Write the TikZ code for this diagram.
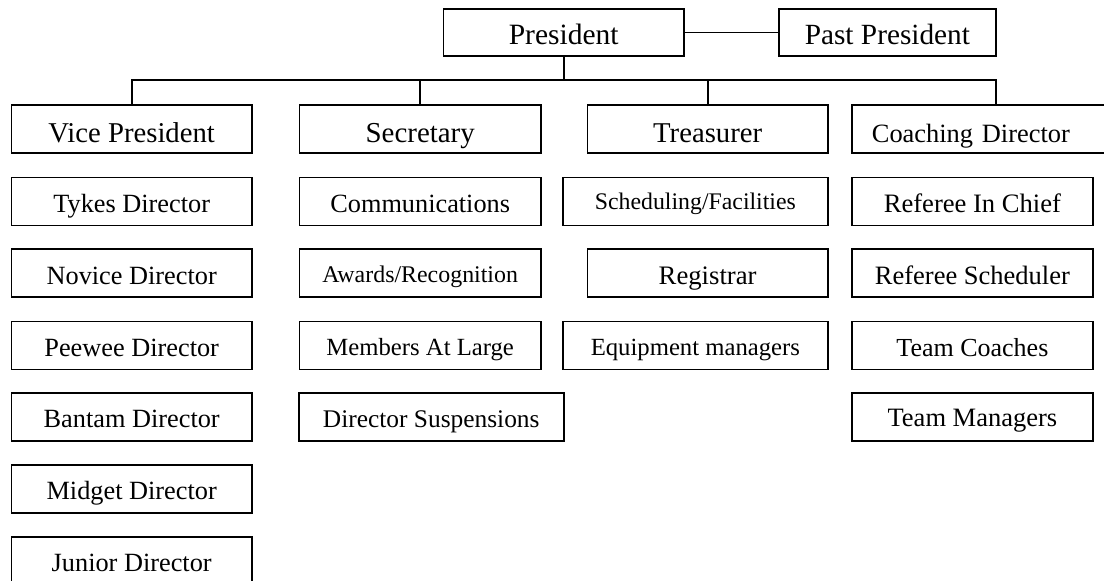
\documentclass[tikz,border=0pt]{standalone}
\usepackage{fontspec}
\setmainfont{Liberation Serif}
\newcommand\myfs[1]{\fontsize{#1}{#1}\selectfont}
\tikzset{
  box/.style={draw, line width=1.8pt, rectangle, inner xsep=0pt, inner ysep=0pt, anchor=north west, minimum height=48pt},
  ttl/.style={box, text height=37.5pt, text depth=10.5pt, font=\myfs{28.7}},
  sub/.style={box, text height=35pt, text depth=13pt, font=\myfs{26.3}},
  conn/.style={line width=1.8pt},
}
\begin{document}
\begin{tikzpicture}[x=1pt, y=-1pt]
\useasboundingbox (0,0) rectangle (1104,581);
\clip (0,0) rectangle (1104,581);
% top
\node[box, minimum width=240.4pt, minimum height=46.7pt, text height=35.7pt, text depth=11pt, font=\myfs{29.5}] (pres) at (442.6,8.3) {President};
\node[box, minimum width=217pt, minimum height=46.7pt, text height=35.7pt, text depth=11pt, font=\myfs{29.3}] (past) at (778,8.3) {Past President};
% titles
\node[ttl, minimum width=240.4pt] (vp) at (10.6,104) {Vice President};
\node[ttl, minimum width=241.4pt, font=\myfs{28.9}] (sec) at (298.6,104) {Secretary};
\node[ttl, minimum width=240.5pt] (tre) at (586.5,104) {Treasurer};
\node[ttl, minimum width=288pt, text width=248pt, inner xsep=20pt, align=left, font=\myfs{26.4}] (coach) at (851,104) {Coaching Director};
% vice president column
\node[sub, minimum width=240.4pt] (tykes) at (10.6,176.5) {Tykes Director};
\node[sub, minimum width=240.4pt] (novice) at (10.6,248.3) {Novice Director};
\node[sub, minimum width=240.4pt] (peewee) at (10.6,320.5) {Peewee Director};
\node[sub, minimum width=240.4pt] (bantam) at (10.6,392) {Bantam Director};
\node[sub, minimum width=240.4pt] (midget) at (10.6,464) {Midget Director};
\node[sub, minimum width=240.4pt] (junior) at (10.6,536) {Junior Director};
% secretary column
\node[sub, minimum width=241.4pt] (comm) at (298.6,176.5) {Communications};
\node[sub, minimum width=241.4pt, font=\myfs{23.9}, text depth=15pt, text height=33pt] (awards) at (298.6,248.3) {Awards/Recognition};
\node[sub, minimum width=241.4pt, font=\myfs{24.7}, text depth=14pt, text height=34pt] (members) at (298.6,320.5) {Members At Large};
\node[sub, minimum width=264.7pt, font=\myfs{25.4}] (susp) at (298,392) {Director Suspensions};
% treasurer column
\node[sub, minimum width=265pt, font=\myfs{23.8}, text depth=15.5pt, text height=32.5pt] (sched) at (562,176.5) {Scheduling/Facilities};
\node[sub, minimum width=240.5pt, font=\myfs{26.7}] (reg) at (586.5,248.3) {Registrar};
\node[sub, minimum width=265pt, font=\myfs{24.7}, text depth=14pt, text height=34pt] (equip) at (562,320.5) {Equipment managers};
% coaching column
\node[sub, minimum width=241pt, font=\myfs{26.6}, text depth=12.5pt, text height=35.5pt] (ric) at (851,176.5) {Referee In Chief};
\node[sub, minimum width=241pt, font=\myfs{26.5}] (rsch) at (851,248.3) {Referee Scheduler};
\node[sub, minimum width=241pt, font=\myfs{26}] (coaches) at (851,320.5) {Team Coaches};
\node[sub, minimum width=241pt, font=\myfs{26.5}, text depth=14.5pt, text height=33.5pt] (mgrs) at (851,392) {Team Managers};
% connectors
\coordinate (bus) at (0,80);
\draw[conn] (pres.east) -- (past.west);
\draw[conn] (pres.south) -- (pres.south |- bus);
\draw[conn] (vp.north) -- (vp.north |- bus) -- (coach.north |- bus) -- (coach.north);
\draw[conn] (sec.north) -- (sec.north |- bus);
\draw[conn] (tre.north) -- (tre.north |- bus);
\end{tikzpicture}
\end{document}
